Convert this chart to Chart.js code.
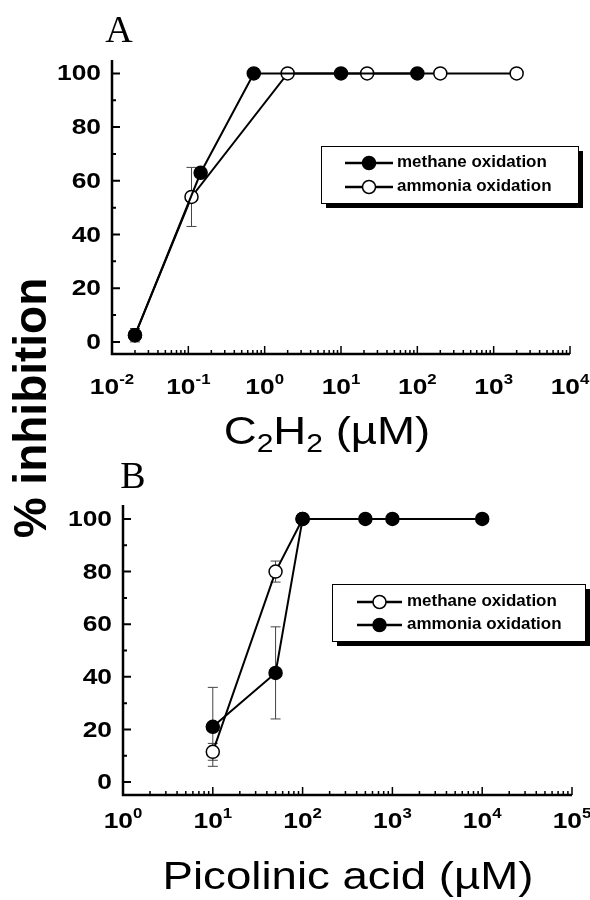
<!DOCTYPE html>
<html>
<head>
<meta charset="utf-8">
<script src="https://cdn.jsdelivr.net/npm/chart.js@4.4.0/dist/chart.umd.min.js"></script>
<style>
html, body { margin: 0; padding: 0; background: #fff; overflow: hidden; }
#wrap { position: relative; width: 590px; height: 900px; overflow: hidden; }
canvas { position: absolute; left: 0; }
#panelA { top: 0; }
#panelB { top: 456px; }
</style>
</head>
<body>
<div id="wrap">
<canvas id="panelA" width="590" height="456"></canvas>
<canvas id="panelB" width="590" height="444"></canvas>
</div>
<script>
// PANEL A: C2H2 (uM) vs % inhibition
const concA_methane = [0.02, 0.145, 0.72, 10, 100];
const inhA_methane  = [2.5, 63, 100, 100, 100];
const errA_methane  = [2.5, 0, 0, 0, 0];
const concA_ammonia = [0.02, 0.11, 2, 22, 200, 2000];
const inhA_ammonia  = [2.5, 54, 100, 100, 100, 100];
const errA_ammonia  = [0, 11, 0, 0, 0, 0];
const decadesA = [-2, -1, 0, 1, 2, 3, 4];

// PANEL B: picolinic acid (uM) vs % inhibition
const concB_methane = [10, 50, 100];
const inhB_methane  = [11.5, 80, 100];
const errB_methane  = [3.2, 4, 0];
const concB_ammonia = [10, 50, 100, 500, 1000, 10000];
const inhB_ammonia  = [21, 41.5, 100, 100, 100, 100];
const errB_ammonia  = [15, 17.5, 0, 0, 0, 0];
const decadesB = [0, 1, 2, 3, 4, 5];

const ticksY = [0, 20, 40, 60, 80, 100];
const legendNames = ['methane oxidation', 'ammonia oxidation'];

const SANS = "'Liberation Sans', Arial, sans-serif";
const SERIF = "'Liberation Serif', 'Times New Roman', serif";

function txt(ctx, s, x, y, font, align, sx) {
    ctx.save();
    ctx.font = font;
    let w = ctx.measureText(s).width * sx;
    let x0 = align === 'center' ? x - w / 2 : (align === 'right' ? x - w : x);
    ctx.translate(x0, y);
    ctx.scale(sx, 1);
    ctx.textAlign = 'left';
    ctx.fillText(s, 0, 0);
    ctx.restore();
    return w;
}

// several pieces of text centred as one (for super/subscripts)
function runs(ctx, parts, x, y, sx) {
    let total = 0;
    parts.forEach(p => {
        ctx.font = p.font;
        p.w = ctx.measureText(p.s).width * sx;
        total += p.w;
    });
    let cx = x - total / 2;
    parts.forEach(p => {
        txt(ctx, p.s, cx, y + (p.dy || 0), p.font, 'left', sx);
        cx += p.w;
    });
}

function points(xs, ys) {
    return xs.map((x, i) => ({ x: x, y: ys[i] }));
}

function serie(label, xs, ys, filled) {
    return {
        label: label,
        data: points(xs, ys),
        showLine: true,
        borderColor: '#000',
        borderWidth: 2,
        pointRadius: 6.5,
        pointBorderWidth: 1.5,
        pointBorderColor: '#000',
        pointBackgroundColor: filled ? '#000' : '#fff',
        order: filled ? 0 : 1
    };
}

function decor(opt) {
    return {
        id: 'decor',
        beforeDatasetsDraw(chart) {
            const ctx = chart.ctx;
            const ys = chart.scales.y;
            ctx.save();
            ctx.strokeStyle = '#444';
            ctx.lineWidth = 1;
            opt.errors.forEach((errs, i) => {
                chart.getDatasetMeta(i).data.forEach((el, k) => {
                    if (!errs[k]) return;
                    let v = chart.data.datasets[i].data[k].y;
                    let y1 = ys.getPixelForValue(v + errs[k]);
                    let y2 = ys.getPixelForValue(v - errs[k]);
                    ctx.beginPath();
                    ctx.moveTo(el.x, y1); ctx.lineTo(el.x, y2);
                    ctx.moveTo(el.x - 5, y1); ctx.lineTo(el.x + 5, y1);
                    ctx.moveTo(el.x - 5, y2); ctx.lineTo(el.x + 5, y2);
                    ctx.stroke();
                });
            });
            ctx.restore();
        },
        afterDraw(chart) {
            const ctx = chart.ctx;
            const a = chart.chartArea;
            const xs = chart.scales.x, ys = chart.scales.y;
            ctx.save();
            ctx.fillStyle = '#000';
            ctx.strokeStyle = '#000';

            // AXES
            ctx.lineWidth = 2.5;
            ctx.beginPath();
            ctx.moveTo(a.left, a.top);
            ctx.lineTo(a.left, a.bottom + 1.25);
            ctx.moveTo(a.left - 1.25, a.bottom);
            ctx.lineTo(a.right, a.bottom);
            ctx.stroke();

            // Y TICKS (inside)
            ctx.lineWidth = 2;
            ctx.beginPath();
            for (let v = 0; v <= 100; v += 10) {
                let y = ys.getPixelForValue(v);
                ctx.moveTo(a.left, y);
                ctx.lineTo(a.left + (v % 20 === 0 ? 8 : 4), y);
            }
            ctx.stroke();
            ctx.textBaseline = 'middle';
            ticksY.forEach(v => {
                txt(ctx, String(v), a.left - 11, ys.getPixelForValue(v) + 1, 'bold 22px ' + SANS, 'right', 1.2);
            });

            // X TICKS (log, inside)
            ctx.lineWidth = 1.5;
            ctx.beginPath();
            opt.decades.forEach(e => {
                for (let m = 1; m <= 9; m++) {
                    let v = m * Math.pow(10, e);
                    if (v > xs.max * 1.0001) break;
                    let x = xs.getPixelForValue(v);
                    ctx.moveTo(x, a.bottom);
                    ctx.lineTo(x, a.bottom - (m === 1 ? 8 : 4));
                }
            });
            ctx.stroke();
            ctx.textBaseline = 'alphabetic';
            opt.decades.forEach(e => {
                let x = xs.getPixelForValue(Math.pow(10, e));
                runs(ctx, [
                    { s: '10', font: 'bold 22px ' + SANS },
                    { s: String(e), font: 'bold 14px ' + SANS, dy: -10 }
                ], x, opt.xLabelBase, 1.2);
            });

            // X TITLE
            runs(ctx, opt.xTitle, opt.xTitleX, opt.xTitleBase, 1.2);

            // PANEL LETTER
            ctx.font = '38px ' + SERIF;
            ctx.textAlign = 'center';
            ctx.fillText(opt.letter, opt.letterX, opt.letterBase);

            // Y TITLE, shared by both panels
            ctx.save();
            ctx.translate(46, 408 - opt.offsetY);
            ctx.rotate(-Math.PI / 2);
            ctx.font = 'bold 46px ' + SANS;
            ctx.textAlign = 'center';
            ctx.textBaseline = 'alphabetic';
            ctx.fillText('% inhibition', 0, 0);
            ctx.restore();

            // LEGEND with drop shadow
            const L = opt.legend;
            ctx.fillRect(L.x + 5, L.y + 5, L.w, L.h);
            ctx.fillStyle = '#fff';
            ctx.fillRect(L.x, L.y, L.w, L.h);
            ctx.lineWidth = 1;
            ctx.strokeRect(L.x + 0.5, L.y + 0.5, L.w, L.h);
            L.rows.forEach((r, i) => {
                ctx.lineWidth = 2.5;
                ctx.beginPath();
                ctx.moveTo(L.sym1, r.y);
                ctx.lineTo(L.sym2, r.y);
                ctx.stroke();
                ctx.beginPath();
                ctx.arc((L.sym1 + L.sym2) / 2, r.y, 6.5, 0, Math.PI * 2);
                ctx.fillStyle = r.filled ? '#000' : '#fff';
                ctx.fill();
                ctx.lineWidth = 1.5;
                ctx.stroke();
                ctx.fillStyle = '#000';
                ctx.textBaseline = 'middle';
                txt(ctx, legendNames[i], L.textX, r.y, 'bold 16px ' + SANS, 'left', 1.06);
            });
            ctx.restore();
        }
    };
}

function opciones(xMin, xMax, yMin, yMax, yWidth, xHeight, pad) {
    return {
        responsive: false,
        animation: false,
        devicePixelRatio: 1,
        layout: { padding: pad },
        plugins: { legend: { display: false }, tooltip: { enabled: false } },
        scales: {
            x: {
                type: 'logarithmic', min: xMin, max: xMax,
                grid: { display: false, drawTicks: false },
                border: { display: false },
                ticks: { display: false },
                afterFit: s => { s.height = xHeight; }
            },
            y: {
                type: 'linear', min: yMin, max: yMax,
                grid: { display: false, drawTicks: false },
                border: { display: false },
                ticks: { display: false },
                afterFit: s => { s.width = yWidth; }
            }
        }
    };
}

new Chart(document.getElementById('panelA').getContext('2d'), {
    type: 'scatter',
    data: {
        datasets: [
            serie(legendNames[0], concA_methane, inhA_methane, true),
            serie(legendNames[1], concA_ammonia, inhA_ammonia, false)
        ]
    },
    options: opciones(0.01, 10000, -4.5, 105, 112, 102, { left: 0, right: 20, top: 60, bottom: 0 }),
    plugins: [decor({
        errors: [errA_methane, errA_ammonia],
        decades: decadesA,
        xLabelBase: 394,
        xTitle: [
            { s: 'C', font: '38px ' + SANS },
            { s: '2', font: '25px ' + SANS, dy: 8 },
            { s: 'H', font: '38px ' + SANS },
            { s: '2', font: '25px ' + SANS, dy: 8 },
            { s: ' (\u00b5M)', font: '38px ' + SANS }
        ],
        xTitleX: 327, xTitleBase: 444,
        letter: 'A', letterX: 119, letterBase: 42,
        offsetY: 0,
        legend: {
            x: 321, y: 146, w: 257, h: 57, sym1: 345, sym2: 393, textX: 397,
            rows: [{ y: 163, filled: true }, { y: 187, filled: false }]
        }
    })]
});

new Chart(document.getElementById('panelB').getContext('2d'), {
    type: 'scatter',
    data: {
        datasets: [
            serie(legendNames[0], concB_methane, inhB_methane, false),
            serie(legendNames[1], concB_ammonia, inhB_ammonia, true)
        ]
    },
    options: opciones(1, 100000, -4.9, 105.3, 123, 105, { left: 0, right: 18, top: 49, bottom: 0 }),
    plugins: [decor({
        errors: [errB_methane, errB_ammonia],
        decades: decadesB,
        xLabelBase: 372,
        xTitle: [{ s: 'Picolinic acid (\u00b5M)', font: '38px ' + SANS }],
        xTitleX: 348, xTitleBase: 433,
        letter: 'B', letterX: 133, letterBase: 32,
        offsetY: 456,
        legend: {
            x: 332, y: 128, w: 253, h: 57, sym1: 357, sym2: 402, textX: 407,
            rows: [{ y: 146, filled: false }, { y: 169, filled: true }]
        }
    })]
});
</script>
</body>
</html>
